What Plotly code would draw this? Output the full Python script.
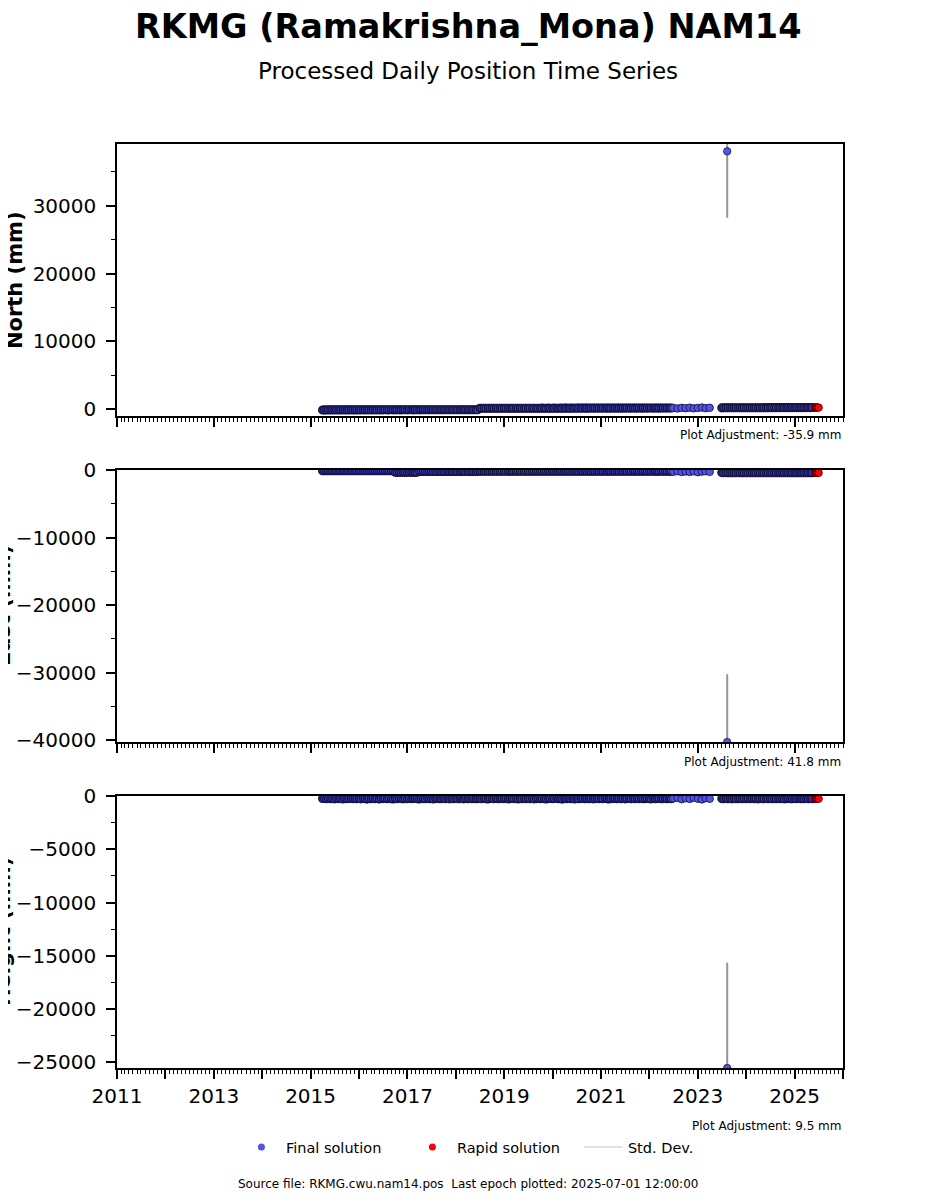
import pandas as pd
import plotly.graph_objects as go
from plotly.subplots import make_subplots

# ---------------- data (mm, relative to plot adjustment) ----------------
# Final solution, dense part: semi-monthly samples starting 2015-04-01
final1_start = "2015-04-01"
final1_north = [
    -95, -92, -96, -90, -93, -88, -91, -94, -89, -92, -87, -90, -93, -88, -86, -90, -92, -85,
    -88, -84, -87, -90, -83, -86, -89, -82, -85, -88, -81, -84, -87, -80, -83, -86, -79, -82, -85, -78, -81, -84, -77, -80,
    -83, -76, -79, -82, -75, -78, -81, -74, -77, -80, -73, -76, -79, -72, -75, -78, -71, -74, -77, -70, -73, -76, -69, -72,
    -75, -68, -71, -74, -67, -70, -73, -66, -69, -72, -65, -68, 150, 153, 148, 151, 155, 149, 152, 156, 150, 153, 157, 151,
    154, 158, 152, 155, 159, 153, 156, 160, 154, 157, 161, 155, 158, 162, 156, 159, 163, 157, 160, 164, 158, 161, 165, 159,
    162, 166, 160, 163, 167, 161, 164, 168, 162, 165, 169, 163, 166, 170, 164, 167, 171, 165, 168, 172, 166, 169, 173, 167,
    170, 174, 168, 171, 175, 169, 172, 176, 170, 173, 177, 171, 174, 178, 172, 175, 179, 173, 176, 180, 174, 177, 181, 175,
    178, 182, 176, 179, 183, 177, 180, 184, 178, 181, 185, 179,
]
final1_east = [
    -110, -105, -112, -108, -115, -106, -111, -109, -104, -113, -107, -110, -114, -106, -109, -112, -105, -111,
    -113, -108, -116, -110, -107, -114, -111, -118, -109, -115, -112, -108, -117, -110, -114, -120, -113, -118, -330, -345, -338, -352, -340, -348,
    -355, -342, -350, -338, -346, -335, -210, -205, -215, -208, -212, -203, -209, -214, -206, -211, -204, -213, -207, -210, -202, -212, -208, -205,
    -211, -206, -209, -203, -212, -207, -204, -210, -206, -213, -208, -205, -185, -180, -188, -182, -178, -186, -181, -184, -179, -187, -183, -180,
    -182, -186, -179, -184, -181, -188, -183, -178, -185, -180, -187, -182, -179, -184, -186, -181, -183, -177, -185, -182, -188, -180, -184, -181,
    -183, -179, -186, -182, -180, -185, -181, -187, -178, -184, -182, -186, -180, -183, -179, -185, -181, -188, -182, -178, -184, -181, -186, -183,
    -180, -185, -182, -187, -179, -184, -181, -186, -183, -178, -185, -182, -180, -187, -183, -179, -184, -181, -186, -182, -180, -185, -183, -188,
    -190, -195, -188, -193, -197, -191, -194, -189, -196, -192, -198, -193,
]
final1_height = [
    -240, -225, -260, -215, -250, -230, -270, -220, -245, -235, -280, -210, -255, -240, -225, -265, -230, -250,
    -235, -270, -220, -245, -290, -230, -250, -215, -260, -240, -275, -225, -245, -230, -265, -210, -250, -285, -235, -255, -220, -245, -270, -230,
    -250, -225, -265, -240, -215, -255, -280, -230, -245, -260, -220, -250, -235, -275, -240, -225, -260, -245, -215, -255, -230, -270, -240, -250,
    -225, -260, -245, -235, -270, -220, -250, -240, -265, -230, -255, -245, -235, -260, -225, -250, -275, -240, -230, -255, -220, -265, -245, -235,
    -250, -230, -270, -245, -220, -260, -240, -285, -235, -250, -225, -265, -240, -255, -230, -270, -245, -220, -260, -235, -250, -280, -240, -230,
    -255, -240, -225, -265, -245, -290, -235, -250, -220, -260, -240, -275, -230, -255, -245, -225, -265, -240, -250, -235, -270, -245, -225, -255,
    -240, -260, -230, -250, -275, -235, -245, -225, -265, -240, -255, -230, -270, -245, -235, -260, -220, -250, -240, -265, -230, -255, -245, -235,
    -250, -270, -235, -255, -240, -225, -265, -245, -230, -260, -240, -250,
]

# Final solution, sparse part: monthly samples starting 2022-07-01
final2_start = "2022-07-01"
final2_north = [190, 120, 210, 160, 230, 140, 200, 250, 170, 220]
final2_east = [-260, -180, -300, -220, -280, -200, -320, -240, -190, -270]
final2_height = [-230, -180, -300, -210, -270, -160, -250, -320, -200, -260]

# Final solution after the 2023 gap: semi-monthly samples starting 2023-07-01
final3_start = "2023-07-01"
final3_north = [
    210, 215, 220, 218, 222, 225, 223, 227, 224, 228, 226, 230,
    229, 232, 230, 234, 231, 235, 233, 236, 234, 238, 235, 239, 237, 240, 238, 242, 239, 243, 241, 244, 242, 246, 243, 247,
    245, 248, 246, 250, 247, 251, 249, 252, 250, 253,
]
final3_east = [
    -390, -395, -388, -402, -398, -393, -405, -399, -392, -401, -396, -404,
    -398, -406, -400, -395, -403, -409, -401, -397, -405, -399, -410, -402, -396, -407, -403, -398, -411, -404, -400, -408, -402, -413, -405, -399,
    -407, -412, -404, -409, -415, -406, -411, -403, -414, -408,
]
final3_height = [
    -245, -260, -235, -255, -240, -270, -230, -250, -265, -240, -255, -235,
    -250, -240, -265, -230, -255, -245, -270, -235, -250, -260, -240, -255, -230, -265, -245, -250, -235, -260, -240, -270, -245, -230, -255, -250,
    -240, -260, -235, -255, -245, -265, -230, -250, -240, -255,
]

# Rapid solution
rapid_dates = ["2025-06-01", "2025-06-08", "2025-06-15", "2025-06-22", "2025-07-01"]
rapid_north = [252, 255, 253, 256, 254]
rapid_east = [-410, -416, -409, -413, -418]
rapid_height = [-250, -245, -260, -240, -255]

# Outlier epoch with its large standard deviation
outlier_date = ["2023-08-11"]
outlier_north = [38010]
outlier_east = [-40250]
outlier_height = [-25530]
outlier_north_std = [9795]
outlier_east_std = [10030]
outlier_height_std = [9890]

components = ["North (mm)", "East (mm)", "Height (mm)"]
plot_adjustments = ["Plot Adjustment: -35.9 mm", "Plot Adjustment: 41.8 mm", "Plot Adjustment: 9.5 mm"]
y_ranges = [[-990, 39090], [-40250, 0], [-25530, 0]]
y_tickvals = [[0, 10000, 20000, 30000],
              [0, -10000, -20000, -30000, -40000],
              [0, -5000, -10000, -15000, -20000, -25000]]
y_ticktext = [["0", "10000", "20000", "30000"],
              ["0", "\u221210000", "\u221220000", "\u221230000", "\u221240000"],
              ["0", "\u22125000", "\u221210000", "\u221215000", "\u221220000", "\u221225000"]]
y_minor_dticks = [5000, 5000, 2500]

tick_years = ["2011-01-01", "2012-01-01", "2013-01-01", "2014-01-01", "2015-01-01", "2016-01-01",
              "2017-01-01", "2018-01-01", "2019-01-01", "2020-01-01", "2021-01-01", "2022-01-01",
              "2023-01-01", "2024-01-01", "2025-01-01", "2026-01-01"]
tick_labels = ["2011", "", "2013", "", "2015", "", "2017", "", "2019", "", "2021", "", "2023", "", "2025", ""]
x_range = ["2011-01-01", "2026-01-01"]

# ---------------- figure ----------------
d1 = pd.date_range(final1_start, periods=len(final1_north), freq="SMS")
d2 = pd.date_range(final2_start, periods=len(final2_north), freq="MS")
d3 = pd.date_range(final3_start, periods=len(final3_north), freq="SMS")

dense_dates = list(d1) + list(d3)
dense_vals = [final1_north + final3_north, final1_east + final3_east, final1_height + final3_height]
sparse_vals = [final2_north, final2_east, final2_height]
rapid_vals = [rapid_north, rapid_east, rapid_height]
out_vals = [outlier_north, outlier_east, outlier_height]
out_std = [outlier_north_std, outlier_east_std, outlier_height_std]

FONT = "DejaVu Sans"
BLUE = "#5252f0"
RED = "#ff0000"

fig = make_subplots(rows=3, cols=1, vertical_spacing=54 / 924)

for i in range(3):
    r = i + 1
    fig.add_trace(go.Scatter(
        x=dense_dates, y=dense_vals[i], mode="markers", legendgroup="final",
        marker=dict(size=7.5, color=BLUE, line=dict(color="#141446", width=1.6)),
        showlegend=False, name="Final solution"), row=r, col=1)
    fig.add_trace(go.Scatter(
        x=list(d2), y=sparse_vals[i], mode="markers", legendgroup="final",
        marker=dict(size=7.5, color=BLUE, line=dict(color="#141446", width=0.9)),
        showlegend=False, name="Final solution"), row=r, col=1)
    fig.add_trace(go.Scatter(
        x=outlier_date, y=out_vals[i], mode="markers", legendgroup="final",
        marker=dict(size=7.5, color=BLUE, line=dict(color="black", width=0.6)),
        error_y=dict(type="data", array=out_std[i], symmetric=True, color="#969696",
                     thickness=2, width=0),
        showlegend=False, name="Final solution"), row=r, col=1)
    fig.add_trace(go.Scatter(
        x=rapid_dates, y=rapid_vals[i], mode="markers", legendgroup="rapid",
        marker=dict(size=7.5, color=RED, line=dict(color="#300000", width=0.8)),
        showlegend=False, name="Rapid solution"), row=r, col=1)

# legend entries
fig.add_trace(go.Scatter(x=[None], y=[None], mode="markers", name="Final solution",
                         legendgroup="final", marker=dict(size=7, color=BLUE, line=dict(width=0)),
                         legendrank=1), row=1, col=1)
fig.add_trace(go.Scatter(x=[None], y=[None], mode="markers", name="Rapid solution",
                         legendgroup="rapid", marker=dict(size=7, color=RED, line=dict(width=0)),
                         legendrank=2), row=1, col=1)
fig.add_trace(go.Scatter(x=[None], y=[None], mode="lines", name="Std. Dev.",
                         line=dict(color="#d9d9d9", width=1.5), legendrank=3), row=1, col=1)

for i in range(3):
    r = i + 1
    fig.update_xaxes(
        type="date", range=x_range, tickmode="array", tickvals=tick_years, ticktext=tick_labels,
        showticklabels=(i == 2), ticks="outside", ticklen=9, tickwidth=1.5, tickcolor="black",
        showline=True, linecolor="black", linewidth=1.5, mirror=True, showgrid=False,
        zeroline=False, ticklabelstandoff=0, automargin=False,
        tickfont=dict(family=FONT, size=20, color="black"),
        minor=dict(ticks="outside", ticklen=4, tickwidth=1, tickcolor="black",
                   dtick="M1", tick0="2011-01-01", showgrid=False),
        row=r, col=1)
    fig.update_yaxes(
        range=y_ranges[i], tickmode="array", tickvals=y_tickvals[i], ticktext=y_ticktext[i],
        ticks="outside", ticklen=9, tickwidth=1.5, tickcolor="black",
        showline=True, linecolor="black", linewidth=1.5, mirror=True, showgrid=False,
        zeroline=False, ticklabelstandoff=6, automargin=False,
        tickfont=dict(family=FONT, size=20, color="black"),
        minor=dict(ticks="outside", ticklen=4, tickwidth=1, tickcolor="black",
                   dtick=y_minor_dticks[i], tick0=0, showgrid=False),
        row=r, col=1)

annotations = [
    dict(text="<b>RKMG (Ramakrishna_Mona) NAM14</b>", x=0.4831, y=(1068 - 26) / 924,
         font=dict(family=FONT, size=33.5, color="black")),
    dict(text="Processed Daily Position Time Series", x=0.4831, y=(1068 - 71) / 924,
         font=dict(family=FONT, size=23, color="black")),
    dict(text="Source file: RKMG.cwu.nam14.pos  Last epoch plotted: 2025-07-01 12:00:00",
         x=0.4831, y=(1068 - 1184) / 924, font=dict(family=FONT, size=12, color="black")),
]
adj_y = [435, 762, 1126]
title_x = [15, 3, 3]
panel_mid = [280, 606, 932]
for i in range(3):
    annotations.append(dict(text=plot_adjustments[i], x=1, xanchor="right",
                            y=(1068 - adj_y[i]) / 924,
                            font=dict(family=FONT, size=12, color="black")))
    annotations.append(dict(text="<b>" + components[i] + "</b>", textangle=-90,
                            x=(title_x[i] - 117) / 726.5, y=(1068 - panel_mid[i]) / 924,
                            font=dict(family=FONT, size=21, color="black")))
for a in annotations:
    a.update(xref="paper", yref="paper", showarrow=False)
    a.setdefault("xanchor", "center")
    a.setdefault("yanchor", "middle")

# the page adds an 8 px body margin: figure size and margins are chosen so the plot area
# lands at x 117..843.5, y 144..1068 of the browser window
fig.update_layout(
    width=921, height=1184, autosize=False,
    margin=dict(l=109, r=85.5, t=136, b=124, autoexpand=False),
    paper_bgcolor="white", plot_bgcolor="white",
    font=dict(family=FONT, color="black"),
    annotations=annotations,
    legend=dict(orientation="h", x=(237 - 117) / 726.5, xanchor="left", y=(1068 - 1147) / 924,
                yanchor="middle", font=dict(family=FONT, size=14.5, color="black"),
                bgcolor="rgba(0,0,0,0)", itemwidth=39, entrywidth=117, entrywidthmode="pixels"),
)

fig.write_html("out.html")
